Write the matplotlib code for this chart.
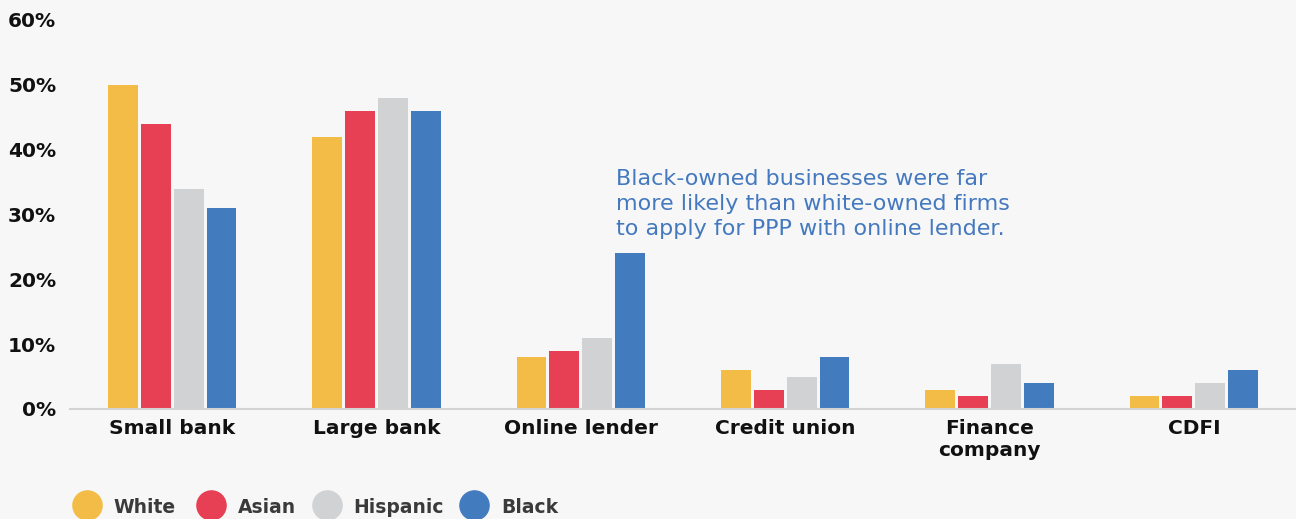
import numpy as np
import matplotlib.pyplot as plt

categories = ['Small bank', 'Large bank', 'Online lender', 'Credit union', 'Finance\ncompany', 'CDFI']
groups = ['White', 'Asian', 'Hispanic', 'Black']
white = [50, 42, 8, 6, 3, 2]
asian = [44, 46, 9, 3, 2, 2]
hispanic = [34, 48, 11, 5, 7, 4]
black = [31, 46, 24, 8, 4, 6]
colors = ['#F3BC47', '#E73F53', '#D1D2D4', '#437BBF']
note = ('Black-owned businesses were far\n'
        'more likely than white-owned firms\n'
        'to apply for PPP with online lender.')

plt.rcParams['font.family'] = ['DejaVu Sans']
bg = '#F7F7F7'

fig = plt.figure(figsize=(12.96, 5.19), dpi=100, facecolor=bg)
ax = fig.add_axes([0.054, 0.212, 0.946, 0.7495], facecolor=bg)

x = np.arange(len(categories))
step = 0.161
width = 0.146
series = [white, asian, hispanic, black]
for i, (vals, c) in enumerate(zip(series, colors)):
    ax.bar(x + (i - 1.5) * step, vals, width, color=c, zorder=2)

ax.set_xlim(-0.5, 5.5)
ax.set_ylim(0, 60)
ax.set_yticks(range(0, 61, 10))
ax.set_yticklabels([f'{v}%' for v in range(0, 61, 10)], fontsize=14.5,
                   fontweight='bold', color='#111111')
ax.set_xticks(x)
ax.set_xticklabels(categories, fontsize=14.5, fontweight='bold', color='#111111',
                   linespacing=1.2, va='top')
ax.tick_params(axis='both', length=0)
ax.tick_params(axis='x', pad=7)
ax.tick_params(axis='y', pad=10)
for s in ['top', 'right', 'left']:
    ax.spines[s].set_visible(False)
ax.spines['bottom'].set_color('#D4D4D4')
ax.spines['bottom'].set_linewidth(1.5)

ax.text(2.17, 37.0, note, fontsize=16, color='#4479BF', va='top', ha='left',
        linespacing=1.32)

# legend drawn in figure coordinates
leg_x = [86.7, 210.7, 326.7, 474.0]
leg_y = 1 - 505 / 519
for name, c, px in zip(groups, colors, leg_x):
    fig.lines.append(plt.Line2D([px / 1296], [leg_y], marker='o', markersize=21,
                                markerfacecolor=c, markeredgecolor=c,
                                linestyle='', transform=fig.transFigure))
    fig.text((px + 27) / 1296, leg_y - 0.004, name, fontsize=13.5, fontweight='bold',
             color='#3A3A3A', va='center', ha='left')

fig.savefig('out.png', dpi=100, facecolor=bg)
